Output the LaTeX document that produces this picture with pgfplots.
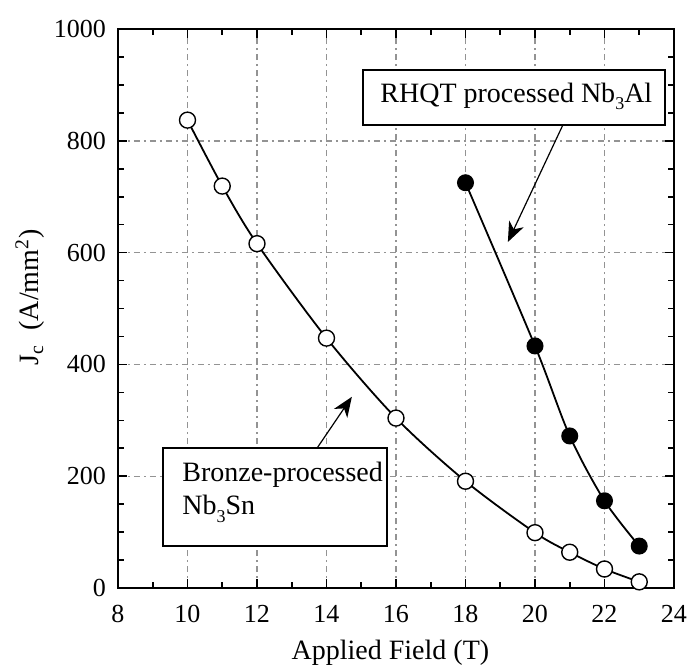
\documentclass[border=0pt]{standalone}
\usepackage{pgfplots}
\pgfplotsset{compat=1.18}
\usepackage{fontspec}
\setmainfont{Liberation Serif}
\usetikzlibrary{arrows.meta}
\begin{document}
\begin{tikzpicture}
\path[use as bounding box] (-59pt,-39pt) rectangle (284.5pt,294pt);
\begin{axis}[
 at={(0,0)}, anchor=south west,
 scale only axis, width=278pt, height=279.5pt,
 xmin=8, xmax=24, ymin=0, ymax=1000,
 xtick={8,10,...,24}, ytick={0,200,...,1000},
 minor x tick num=1, minor y tick num=3,
 tick align=inside,
 major tick length=4.5pt, minor tick length=3pt,
 axis line style={line width=1.4pt},
 every tick/.style={black, line width=0.8pt},
 grid=major,
 major grid style={gray!85, line width=0.7pt, dash pattern=on 3pt off 2pt on 1pt off 2pt},
 tick label style={font=\fontsize{13}{15}\selectfont},
 xticklabel style={yshift=-5pt},
 yticklabel style={xshift=-2.5pt},
 /pgf/number format/assume math mode=true,
 /pgf/number format/set thousands separator={},
 xlabel={Applied Field (T)},
 ylabel={J\textsubscript{c}\ \ (A/mm\textsuperscript{2})},
 every axis x label/.style={at={(axis description cs:0.49,-0.116)},anchor=center,font=\fontsize{14}{16}\selectfont},
 every axis y label/.style={at={(axis description cs:-0.158,0.52)},anchor=center,rotate=90,font=\fontsize{14}{16}\selectfont},
]
\addplot[black, line width=0.9pt, smooth, mark=*, mark size=4pt,
  mark options={fill=white, draw=black, line width=0.7pt}] coordinates {
 (10,837) (11,719) (12,616) (14,447) (16,304) (18,191) (20,99) (21,64) (22,34) (23,11)
};
\addplot[black, line width=0.9pt, smooth, mark=*, mark size=3.8pt,
  mark options={fill=black}] coordinates {
 (18,725) (20,433) (21,272) (22,156) (23,75)
};
\draw[fill=white, line width=0.9pt] (axis cs:15.05,828.3) rectangle (axis cs:23.74,926.6);
\node[anchor=base west, inner sep=0pt, font=\fontsize{14}{16}\selectfont] at (axis cs:15.54,869) {RHQT processed Nb\raisebox{-0.6ex}{\fontsize{9}{9}\selectfont 3}Al};
\draw[-{Stealth[length=10pt,width=8pt,inset=3pt]}, line width=0.6pt] (axis cs:20.8,828) -- (axis cs:19.22,619);
\draw[fill=white, line width=0.9pt] (axis cs:9.3,75.1) rectangle (axis cs:15.74,250.4);
\node[anchor=base west, inner sep=0pt, font=\fontsize{14}{16}\selectfont] at (axis cs:9.84,190) {Bronze-processed};
\node[anchor=base west, inner sep=0pt, font=\fontsize{14}{16}\selectfont] at (axis cs:9.84,130.6) {Nb\raisebox{-0.6ex}{\fontsize{9}{9}\selectfont 3}Sn};
\draw[-{Stealth[length=10pt,width=8pt,inset=3pt]}, line width=0.6pt] (axis cs:13.73,250.4) -- (axis cs:14.73,342);
\end{axis}
\end{tikzpicture}
\end{document}
